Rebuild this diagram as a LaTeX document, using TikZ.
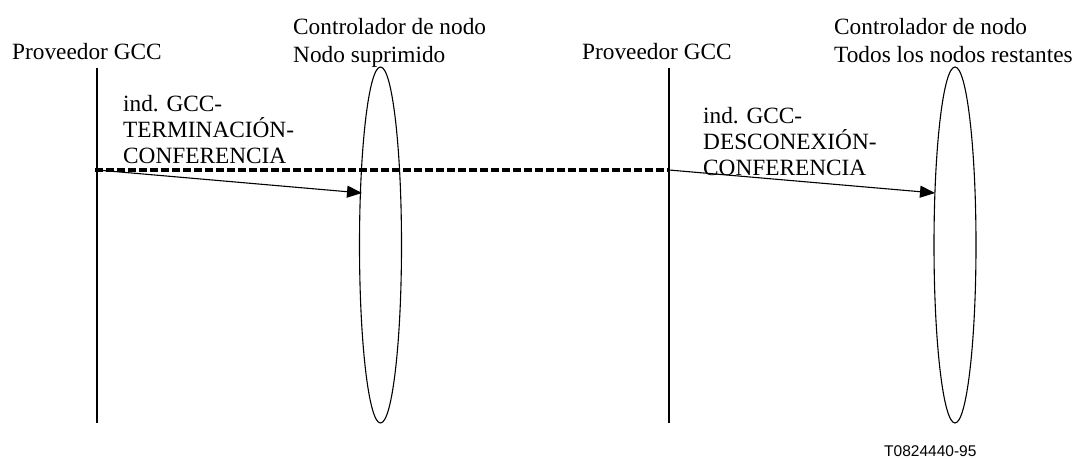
\documentclass[tikz,border=0pt]{standalone}
\usepackage{fontspec}
\setmainfont{Liberation Serif}
\newfontfamily\figsans{Liberation Sans}
\usetikzlibrary{arrows.meta,shapes.geometric}
\begin{document}
\begin{tikzpicture}[x=1bp,y=-1bp,
  hdr/.style={inner sep=0pt,anchor=base west,align=left,font=\fontsize{23.3bp}{28bp}\selectfont},
  lbl/.style={inner sep=0pt,anchor=base west,align=left,font=\fontsize{23.3bp}{26bp}\selectfont},
  lifeline/.style={line width=2bp},
  ctrl/.style={draw,ellipse,line width=1.1bp,minimum width=42bp,minimum height=356bp,inner sep=0pt},
  msg/.style={line width=1.1bp,-{Triangle[length=15bp,width=12bp]}},
  sep/.style={line width=3.2bp,dash pattern=on 8bp off 3bp}]
\useasboundingbox (0,0) rectangle (1089,459);
% headers (anchor = baseline of last line)
\node[hdr] (p1) at (12,60) {Proveedor GCC};
\node[hdr] (c1) at (293,63) {Controlador de nodo\\Nodo suprimido};
\node[hdr] (p2) at (582,60) {Proveedor GCC};
\node[hdr] (c2) at (834,63) {Controlador de nodo\\Todos los nodos restantes};
% lifelines
\coordinate (l1t) at (97,68);
\coordinate (l1b) at (97,423);
\coordinate (l2t) at (669,68);
\coordinate (l2b) at (669,423);
\draw[lifeline] (l1t) -- (l1b);
\draw[lifeline] (l2t) -- (l2b);
% controllers
\node[ctrl] (e1) at (380.5,245) {};
\node[ctrl] (e2) at (955,245) {};
% separator
\coordinate (s1) at (95,170);
\coordinate (s2) at (668,170);
\draw[sep] (s1) -- (s2);
% messages
\coordinate (m1s) at (97,170);
\coordinate (m1e) at (362,193);
\coordinate (m2s) at (669,170);
\coordinate (m2e) at (935,193);
\draw[msg] (m1s) -- (m1e);
\draw[msg] (m2s) -- (m2e);
% labels
\node[lbl] (t1) at (123,164) {ind. GCC-\\TERMINACIÓN-\\CONFERENCIA};
\node[lbl] (t2) at (703,176) {ind. GCC-\\DESCONEXIÓN-\\CONFERENCIA};
% figure id
\node[inner sep=0pt,anchor=base west,font=\figsans\fontsize{15.5bp}{18bp}\selectfont] (id) at (884,456) {T0824440-95};
\end{tikzpicture}
\end{document}
